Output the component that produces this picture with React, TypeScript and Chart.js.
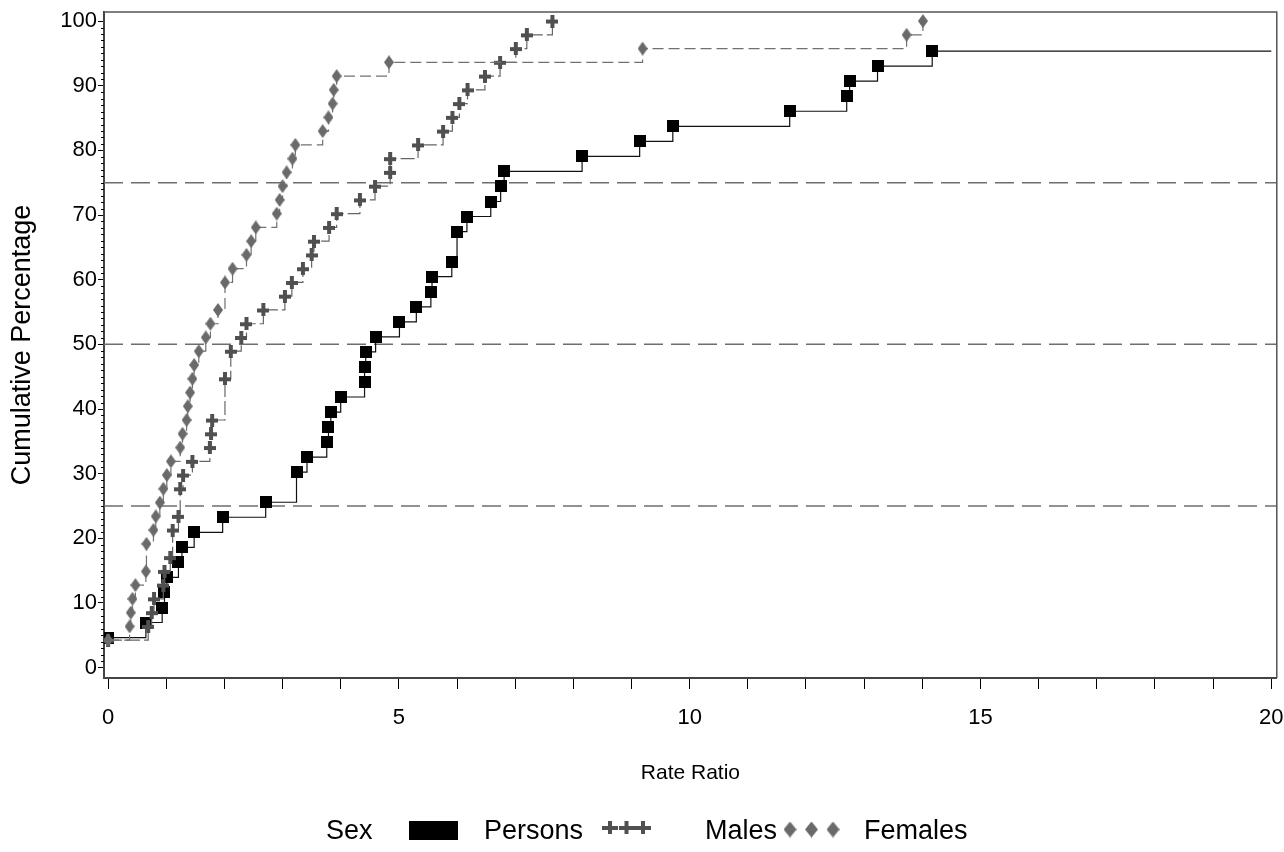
import React, { useEffect, useRef } from 'react';
import { Chart, registerables } from 'chart.js';

Chart.register(...registerables);

// ---------- data ----------
const PERSONS_X = [0, 0.65, 0.93, 0.97, 1.01, 1.21, 1.27, 1.48, 1.97, 2.71, 3.24, 3.42, 3.76, 3.79, 3.83, 4.0, 4.41, 4.41, 4.43, 4.6, 5.01, 5.3, 5.55, 5.57, 5.91, 6.0, 6.17, 6.58, 6.75, 6.81, 8.15, 9.14, 9.71, 11.72, 12.7, 12.75, 13.23, 14.17];
const PERSONS_Y = [4.65, 6.98, 9.3, 11.63, 13.95, 16.28, 18.6, 20.93, 23.26, 25.58, 30.23, 32.56, 34.88, 37.21, 39.53, 41.86, 44.19, 46.51, 48.84, 51.16, 53.49, 55.81, 58.14, 60.47, 62.79, 67.44, 69.77, 72.09, 74.42, 76.74, 79.07, 81.4, 83.72, 86.05, 88.37, 90.7, 93.02, 95.35];

const MALES_X = [0, 0.69, 0.75, 0.79, 0.95, 0.97, 1.07, 1.11, 1.21, 1.24, 1.29, 1.45, 1.75, 1.77, 1.79, 2.01, 2.11, 2.29, 2.38, 2.67, 3.04, 3.16, 3.35, 3.5, 3.54, 3.8, 3.93, 4.33, 4.59, 4.85, 4.85, 5.33, 5.76, 5.92, 6.04, 6.18, 6.48, 6.74, 7.01, 7.2, 7.64];
const MALES_Y = [4.26, 6.38, 8.51, 10.64, 12.77, 14.89, 17.02, 21.28, 23.4, 27.66, 29.79, 31.91, 34.04, 36.17, 38.3, 44.68, 48.94, 51.06, 53.19, 55.32, 57.45, 59.57, 61.7, 63.83, 65.96, 68.09, 70.21, 72.34, 74.47, 76.6, 78.72, 80.85, 82.98, 85.11, 87.23, 89.36, 91.49, 93.62, 95.74, 97.87, 100];

const FEMALES_X = [0, 0.37, 0.39, 0.42, 0.47, 0.65, 0.66, 0.78, 0.82, 0.89, 0.95, 1.01, 1.08, 1.24, 1.28, 1.35, 1.37, 1.41, 1.45, 1.48, 1.56, 1.68, 1.76, 1.89, 2.01, 2.14, 2.38, 2.46, 2.54, 2.9, 2.95, 3.0, 3.07, 3.17, 3.22, 3.69, 3.79, 3.86, 3.88, 3.93, 4.83, 9.19, 13.73, 14.01];
const FEMALES_Y = [4.26, 6.38, 8.51, 10.64, 12.77, 14.89, 19.15, 21.28, 23.4, 25.53, 27.66, 29.79, 31.91, 34.04, 36.17, 38.3, 40.43, 42.55, 44.68, 46.81, 48.94, 51.06, 53.19, 55.32, 59.57, 61.7, 63.83, 65.96, 68.09, 70.21, 72.34, 74.47, 76.6, 78.72, 80.85, 82.98, 85.11, 87.23, 89.36, 91.49, 93.62, 95.74, 97.87, 100];

const REF_LEVELS = [25, 50, 75];
const X_TICKS = [0, 1, 2, 3, 4, 5, 6, 7, 8, 9, 10, 11, 12, 13, 14, 15, 16, 17, 18, 19, 20];
const X_LABELED = [0, 5, 10, 15, 20];
const Y_TICKS = [0, 10, 20, 30, 40, 50, 60, 70, 80, 90, 100];
const X_MIN = -0.07;
const X_MAX = 20.095;
const X_LINE_END = 20;
const Y_MIN = -1.6;
const Y_MAX = 101.4;

const SERIES_NAMES = ['Persons', 'Males', 'Females'];
const LEGEND_TITLE = 'Sex';
const X_TITLE = 'Rate Ratio';
const Y_TITLE = 'Cumulative Percentage';

const FONT = "'Liberation Sans', Arial, sans-serif";

// ---------- marker glyphs ----------
function makeMarker(kind: string, w: number, h: number, color: string, t = 4) {
  const c = document.createElement('canvas');
  c.width = w;
  c.height = h;
  const g = c.getContext('2d')!;
  g.fillStyle = color;
  if (kind === 'square') {
    g.fillRect(0, 0, w, h);
  } else if (kind === 'plus') {
    g.fillRect(Math.round((w - t) / 2), 0, t, h);
    g.fillRect(0, Math.round((h - t) / 2), w, t);
  } else {
    g.beginPath();
    g.moveTo(w / 2, 0);
    g.lineTo(w, h / 2);
    g.lineTo(w / 2, h);
    g.lineTo(0, h / 2);
    g.closePath();
    g.fill();
  }
  return c;
}

const PERSONS_COLOR = '#000000';
const MALES_COLOR = '#505050';
const FEMALES_COLOR = '#6a6a6a';

export default function App() {
  const ref = useRef<HTMLCanvasElement | null>(null);

  useEffect(() => {
    if (!ref.current) return;
    const sq = makeMarker('square', 12, 12, PERSONS_COLOR);
    const pl = makeMarker('plus', 12, 13, MALES_COLOR, 4);
    const di = makeMarker('diamond', 10, 14, FEMALES_COLOR);
    const sqL = makeMarker('square', 19, 19, PERSONS_COLOR);
    const plL = makeMarker('plus', 16, 13, MALES_COLOR, 4);
    const diL = makeMarker('diamond', 13, 16, FEMALES_COLOR);

    const pts = (xs: number[], ys: number[]) => xs.map((x, i) => ({ x, y: ys[i] }));
    const personsPts = pts(PERSONS_X, PERSONS_Y);
    personsPts.push({ x: X_LINE_END, y: PERSONS_Y[PERSONS_Y.length - 1] });

    const refSets = REF_LEVELS.map((lvl) => ({
      label: 'ref' + lvl,
      data: [{ x: X_MIN, y: lvl }, { x: X_MAX, y: lvl }],
      borderColor: '#6e6e6e',
      borderWidth: 1.5,
      borderDash: [19, 8],
      pointRadius: 0,
      order: 5,
    }));

    const decor = {
      id: 'decor',
      afterDraw(chart: any) {
        const { ctx, chartArea, scales } = chart;
        ctx.save();
        // minor y ticks
        ctx.strokeStyle = '#000';
        ctx.lineWidth = 1;
        for (let v = 1; v < 100; v++) {
          if (v % 10 === 0) continue;
          const y = Math.round(scales.y.getPixelForValue(v)) + 0.5;
          ctx.beginPath();
          ctx.moveTo(chartArea.left - 3, y);
          ctx.lineTo(chartArea.left, y);
          ctx.stroke();
        }
        // frame top / right
        ctx.strokeStyle = '#555';
        ctx.lineWidth = 1.5;
        ctx.beginPath();
        ctx.moveTo(chartArea.left, chartArea.top);
        ctx.lineTo(chartArea.right, chartArea.top);
        ctx.lineTo(chartArea.right, chartArea.bottom);
        ctx.stroke();

        // legend
        const base = 839;
        ctx.fillStyle = '#000';
        ctx.font = `27px ${FONT}`;
        ctx.textBaseline = 'alphabetic';
        ctx.textAlign = 'left';
        ctx.fillText(LEGEND_TITLE, 326, base);
        [418, 433, 448].forEach((cx) => ctx.drawImage(sqL, cx - 9.5, 821));
        ctx.fillStyle = '#000';
        ctx.fillText(SERIES_NAMES[0], 484, base);
        [610, 626.5, 643].forEach((cx) => ctx.drawImage(plL, cx - 8, 821));
        ctx.fillText(SERIES_NAMES[1], 705, base);
        [790, 811.5, 833].forEach((cx) => ctx.drawImage(diL, cx - 6.5, 821.5));
        ctx.fillText(SERIES_NAMES[2], 864, base);
        ctx.restore();
      },
    };

    const chart = new Chart(ref.current, {
      type: 'line',
      data: {
        datasets: [
          {
            label: SERIES_NAMES[2],
            data: pts(FEMALES_X, FEMALES_Y),
            stepped: 'before',
            borderColor: '#707070',
            borderWidth: 1.2,
            borderDash: [11, 5],
            pointStyle: di as any,
            pointRadius: 6,
            order: 0,
          },
          {
            label: SERIES_NAMES[1],
            data: pts(MALES_X, MALES_Y),
            stepped: 'before',
            borderColor: '#666666',
            borderWidth: 1.2,
            borderDash: [14, 4],
            pointStyle: pl as any,
            pointRadius: 6,
            order: 1,
          },
          {
            label: SERIES_NAMES[0],
            data: personsPts,
            stepped: 'before',
            borderColor: '#111111',
            borderWidth: 1.2,
            pointStyle: sq as any,
            pointRadius: (c: any) => (c.dataIndex < PERSONS_X.length ? 6 : 0),
            order: 2,
          },
          ...refSets,
        ] as any,
      },
      options: {
        animation: false,
        responsive: false,
        maintainAspectRatio: false,
        events: [],
        layout: { padding: { left: 0, right: 7, top: 12, bottom: 65.9 } },
        plugins: {
          legend: { display: false },
          tooltip: { enabled: false },
          title: { display: false },
        },
        scales: {
          x: {
            type: 'linear',
            min: X_MIN,
            max: X_MAX,
            afterBuildTicks: (s: any) => {
              s.ticks = X_TICKS.map((v) => ({ value: v }));
            },
            afterFit: (s: any) => {
              s.height = 108.1;
              s.paddingLeft = 0;
              s.paddingRight = 0;
              s.paddingTop = 0;
              s.paddingBottom = 0;
            },
            ticks: {
              autoSkip: false,
              maxRotation: 0,
              minRotation: 0,
              padding: 15.8,
              color: '#000',
              font: { family: FONT, size: 22 },
              callback: (v: any) => (X_LABELED.includes(Number(v)) ? String(v) : ''),
            },
            grid: {
              drawOnChartArea: false,
              drawTicks: true,
              tickLength: 11,
              tickColor: '#000',
              tickWidth: 1,
            },
            border: { display: true, color: '#444', width: 2 },
            title: {
              display: true,
              text: X_TITLE,
              color: '#000',
              font: { family: FONT, size: 21 },
              padding: { top: 0, bottom: 0 },
            },
          },
          y: {
            type: 'linear',
            min: Y_MIN,
            max: Y_MAX,
            afterBuildTicks: (s: any) => {
              s.ticks = Y_TICKS.map((v) => ({ value: v }));
            },
            afterFit: (s: any) => {
              s.width = 104;
              s.paddingLeft = 0;
              s.paddingRight = 0;
              s.paddingTop = 0;
              s.paddingBottom = 0;
            },
            ticks: {
              autoSkip: false,
              padding: 1,
              color: '#000',
              font: { family: FONT, size: 22 },
              callback: (v: any) => String(v),
            },
            grid: {
              drawOnChartArea: false,
              drawTicks: true,
              tickLength: 6,
              tickColor: '#000',
              tickWidth: 1,
            },
            border: { display: true, color: '#444', width: 2 },
            title: {
              display: true,
              text: Y_TITLE,
              color: '#000',
              font: { family: FONT, size: 27 },
              padding: { top: 6, bottom: 0 },
            },
          },
        },
      },
      plugins: [decor],
    } as any);

    return () => chart.destroy();
  }, []);

  return (
    <div style={{ position: 'fixed', left: 0, top: 0, width: 1284, height: 852, background: '#fff' }}>
      <canvas ref={ref} width={1284} height={852} style={{ display: 'block' }} />
    </div>
  );
}
